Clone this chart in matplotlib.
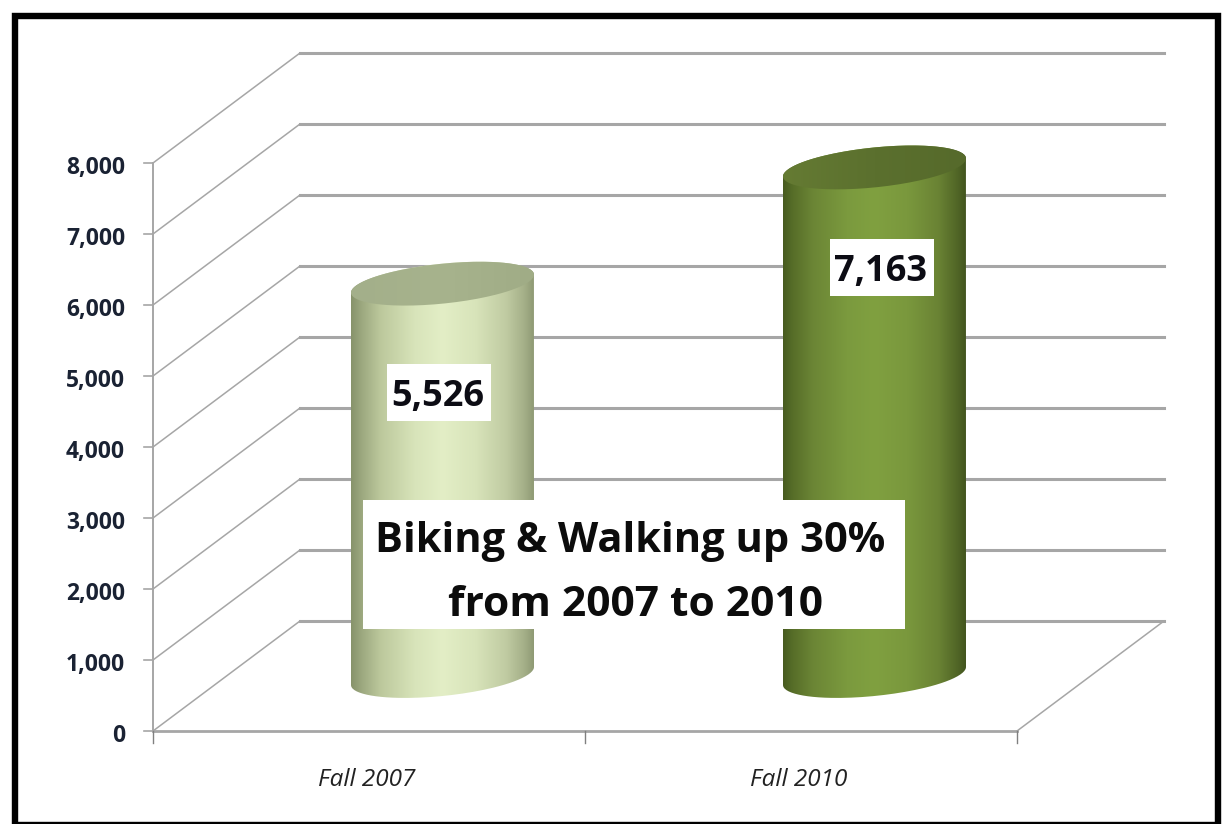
import matplotlib
matplotlib.use('Agg')
import matplotlib.pyplot as plt
import numpy as np
from matplotlib.colors import LinearSegmentedColormap
from matplotlib.patches import PathPatch, Rectangle
from matplotlib.path import Path

# Chart data
categories = ['Fall 2007', 'Fall 2010']
values = [5526, 7163]
value_labels = ['5,526', '7,163']
y_ticks = [0, 1000, 2000, 3000, 4000, 5000, 6000, 7000, 8000]
y_tick_labels = ['0', '1,000', '2,000', '3,000', '4,000', '5,000', '6,000', '7,000', '8,000']
note_lines = ['Biking & Walking up 30%', 'from 2007 to 2010']

# Colours of each cylinder: side gradient (left to right) and top gradient
side_stops = [0.0, 0.05, 0.16, 0.35, 0.5, 0.68, 0.85, 0.95, 1.0]
side_colors = [['#87936b', '#9aa67d', '#bcc89c', '#d8e4ba', '#e3eec6', '#d8e4ba', '#c0cba2', '#a4af88', '#8f9a74'],
               ['#485b20', '#566d28', '#6b8535', '#7b9a3e', '#80a040', '#7a983d', '#6a8334', '#526727', '#43551f']]
top_colors = [['#a3af8a', '#a7b38d', '#a0ac86'],
              ['#657b33', '#5b702e', '#566a2b']]

# Scale of the picture: pixels per category and per unit of value
px_per_cat = 432.0
px_per_val = 0.071
x0_px, y0_px = 153.0, 731.0
W, H = 1226, 824

depth_x = 147 / px_per_cat
depth_y = 110 / px_per_val
radius_x = 91.5 / px_per_cat
radius_y = 20 / px_per_val
tilt = 9 / px_per_val

fig = plt.figure(figsize=(W / 100, H / 100), dpi=100)
ax = fig.add_axes([0, 0, 1, 1])
xlim = (-x0_px / px_per_cat, (W - x0_px) / px_per_cat)
ylim = ((y0_px - H) / px_per_val, y0_px / px_per_val)


def px(x, y):
    # pixel position in the reference -> data coordinates
    return (x - x0_px) / px_per_cat, (y0_px - y) / px_per_val


grid_color = '#a6a6a6'
n_cat = len(categories)

# Walls: diagonal on the left side wall, horizontal on the back wall
for v in y_ticks:
    ax.plot([0, depth_x], [v, v + depth_y], color=grid_color, lw=1.1, zorder=1)
    ax.plot([depth_x, n_cat + depth_x], [v + depth_y, v + depth_y], color=grid_color, lw=2.2, zorder=1)
    ax.plot([-9 / px_per_cat, 0], [v, v], color=grid_color, lw=1.2, zorder=1)

# Floor and axis lines
ax.plot([0, n_cat], [0, 0], color=grid_color, lw=2, zorder=1)
ax.plot([n_cat, n_cat + depth_x], [0, depth_y], color=grid_color, lw=1.1, zorder=1)
ax.plot([0, 0], [0, y_ticks[-1]], color=grid_color, lw=1.4, zorder=1)
for i in range(n_cat + 1):
    ax.plot([i, i], [0, -12 / px_per_val], color='#808080', lw=1, zorder=1)

# Cylinders
t_low = np.linspace(np.pi, 2 * np.pi, 80)
t_up = np.linspace(0, np.pi, 80)
for i, val in enumerate(values):
    cx = i + 0.5 + depth_x / 2
    base = depth_y / 2
    top = base + val

    bottom_x = cx + radius_x * np.cos(t_low)
    bottom_y = base + radius_y * np.sin(t_low) + tilt * np.cos(t_low)
    top_x = cx + radius_x * np.cos(t_up)
    top_y = top + radius_y * np.sin(t_up) + tilt * np.cos(t_up)

    extent = [cx - radius_x, cx + radius_x, base - 2 * radius_y, top + 2 * radius_y]
    side_cmap = LinearSegmentedColormap.from_list('side', list(zip(side_stops, side_colors[i])))
    im = ax.imshow(np.linspace(0, 1, 256).reshape(1, -1), cmap=side_cmap, extent=extent,
                   aspect='auto', zorder=2)
    body = Path(np.column_stack([np.r_[bottom_x, top_x], np.r_[bottom_y, top_y]]), closed=False)
    im.set_clip_path(PathPatch(body, transform=ax.transData))

    # top ellipse
    full = np.linspace(0, 2 * np.pi, 160)
    cap_x = cx + radius_x * np.cos(full)
    cap_y = top + radius_y * np.sin(full) + tilt * np.cos(full)
    top_cmap = LinearSegmentedColormap.from_list('top', top_colors[i])
    im2 = ax.imshow(np.linspace(0, 1, 64).reshape(1, -1), cmap=top_cmap, extent=extent,
                    aspect='auto', zorder=3)
    im2.set_clip_path(PathPatch(Path(np.column_stack([cap_x, cap_y])), transform=ax.transData))

# White boxes of the value labels, hung below the top of each cylinder
box_drop_px = [108.5, 100]
box_shift_px = [-4, 7]
box_w, box_h = 104, 57
for i, val in enumerate(values):
    cx_px = x0_px + (i + 0.5 + depth_x / 2) * px_per_cat + box_shift_px[i]
    top_px = y0_px - (depth_y / 2 + val) * px_per_val
    cy_px = top_px + box_drop_px[i]
    bx, by = px(cx_px - box_w / 2, cy_px + box_h / 2)
    ax.add_patch(Rectangle((bx, by), box_w / px_per_cat, box_h / px_per_val, fc='white', ec='none', zorder=5))
    lx, ly = px(cx_px - 1, cy_px)
    ax.text(lx, ly, value_labels[i], ha='center', va='center_baseline', fontsize=26,
            fontweight='bold', family='Open Sans', color='#0c0c14', zorder=6)

# Big note box in the middle
bx, by = px(363, 629)
ax.add_patch(Rectangle((bx, by), 542 / px_per_cat, 129 / px_per_val, fc='white', ec='none', zorder=5))
for line, x_p, y_p, size in zip(note_lines, [630, 635], [536, 600], [30, 30.6]):
    lx, ly = px(x_p, y_p)
    ax.text(lx, ly, line, ha='center', va='center_baseline', fontsize=size, fontweight='bold',
            family='Open Sans', color='#0c0c0c', zorder=6)

# Tick labels
for v, lab in zip(y_ticks, y_tick_labels):
    ax.text(-28 / px_per_cat, v - 2 / px_per_val, lab, ha='right', va='center_baseline', fontsize=16.5,
            fontweight='bold', family='Open Sans', color='#1a2233')
for i, lab in enumerate(categories):
    ax.text(i + 0.5 - 2 / px_per_cat, -46 / px_per_val, lab, ha='center', va='center_baseline', fontsize=17.5,
            style='italic', family='Open Sans', color='#222222')

# Black picture frame, its bottom edge runs off the picture
fx, fy = px(15, 825)
ax.add_patch(Rectangle((fx, fy), 1203 / px_per_cat, 809 / px_per_val, fc='none', ec='black',
                       lw=4.6, zorder=10, clip_on=False))

ax.set_xlim(*xlim)
ax.set_ylim(*ylim)
ax.axis('off')

fig.savefig('out.png', dpi=100)
